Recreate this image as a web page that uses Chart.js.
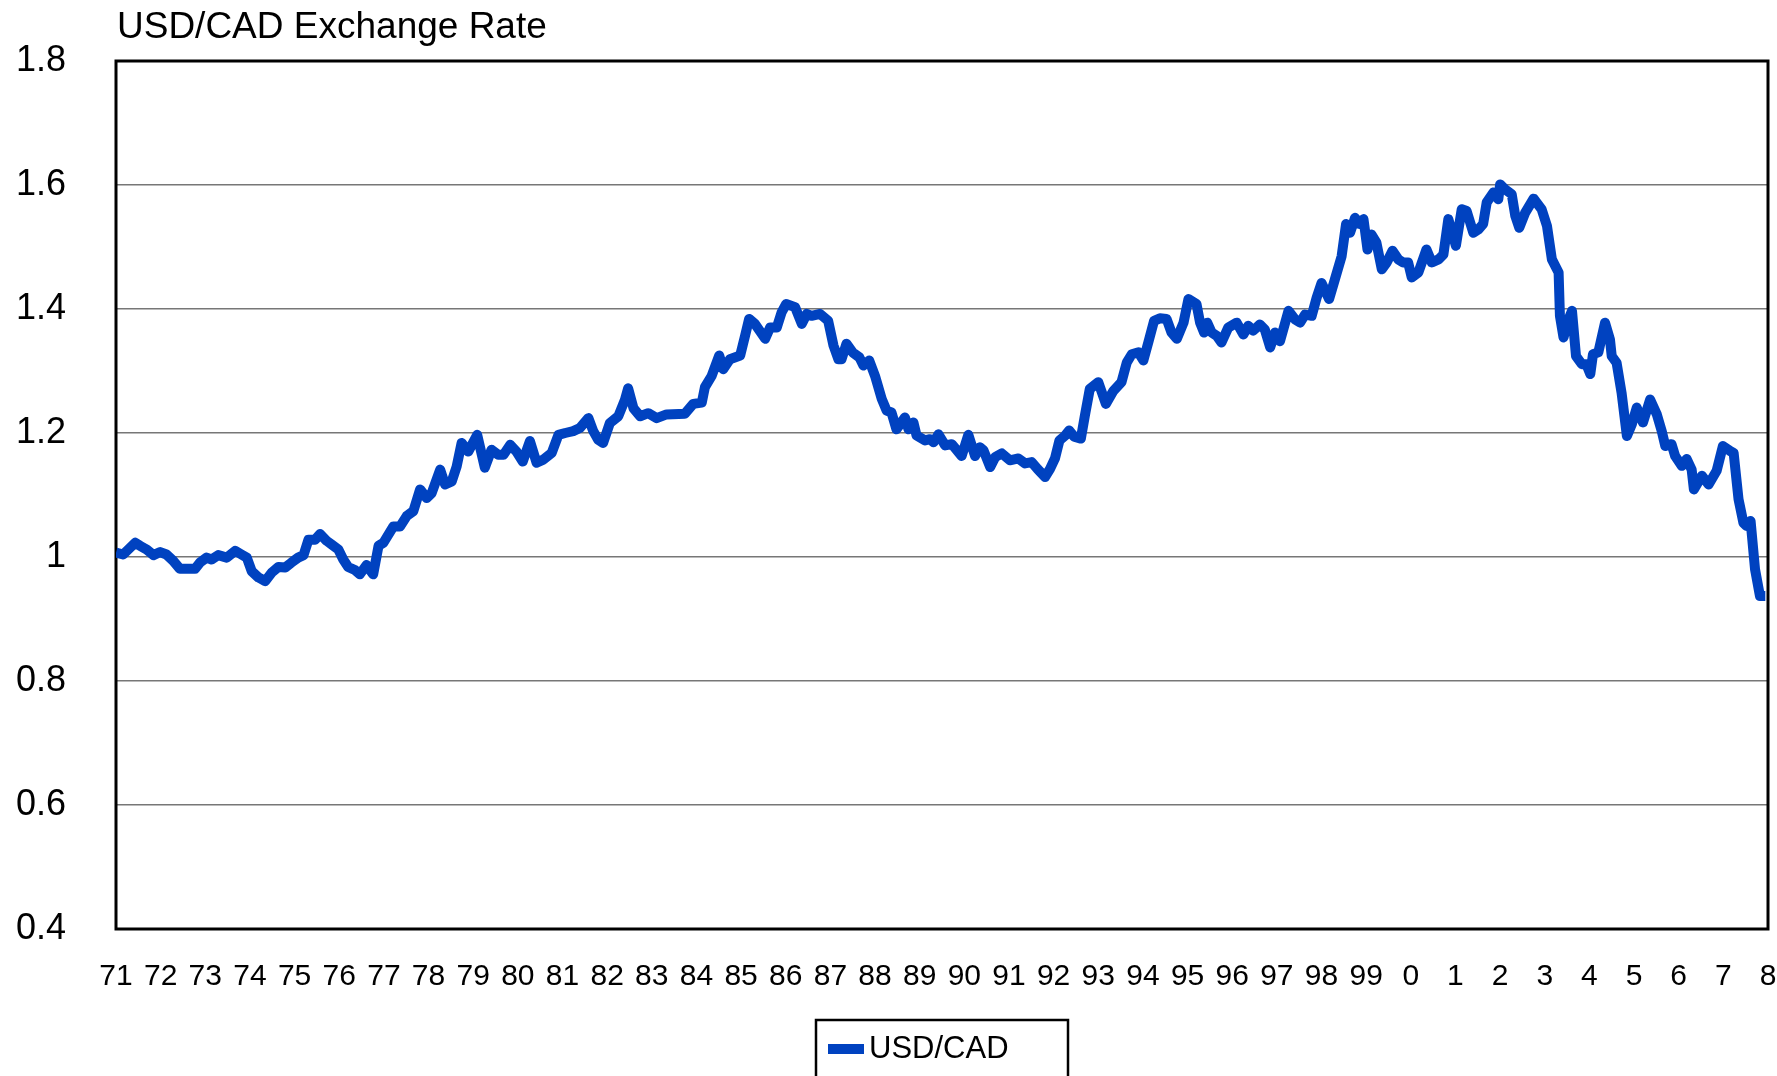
<!DOCTYPE html>
<html>
<head>
<meta charset="utf-8">
<title>USD/CAD Exchange Rate</title>
<script src="https://cdn.jsdelivr.net/npm/chart.js@4.4.1/dist/chart.umd.min.js"></script>
<style>
    body { margin: 0; background: #fff; }
    #wrap { width: 1777px; height: 1076px; }
</style>
</head>
<body>
<div id="wrap"><canvas id="rateChart" width="1777" height="1076"></canvas></div>
<script>
// USD/CAD chart data (decimal year, rate)
const years = [
    1971.00, 1971.16, 1971.43, 1971.54, 1971.69, 1971.84, 1971.99, 1972.13, 1972.28, 1972.43,
    1972.58, 1972.77, 1972.88, 1973.03, 1973.14, 1973.29, 1973.48, 1973.67, 1973.81, 1973.93,
    1974.04, 1974.19, 1974.34, 1974.49, 1974.64, 1974.79, 1974.93, 1975.08, 1975.20, 1975.31,
    1975.46, 1975.57, 1975.72, 1975.83, 1975.98, 1976.09, 1976.20, 1976.35, 1976.46, 1976.61,
    1976.76, 1976.88, 1976.99,
    1977.21, 1977.36, 1977.51, 1977.66, 1977.81, 1977.96, 1978.07, 1978.26, 1978.37, 1978.52,
    1978.63, 1978.74, 1978.89, 1979.09, 1979.26, 1979.41, 1979.56, 1979.68, 1979.83, 1979.97,
    1980.11, 1980.27, 1980.42, 1980.57, 1980.76, 1980.91, 1981.06, 1981.24, 1981.39, 1981.58,
    1981.69, 1981.80, 1981.91, 1982.06, 1982.25, 1982.40, 1982.47, 1982.59, 1982.74, 1982.92,
    1983.11, 1983.33,
    1983.74, 1983.93, 1984.12, 1984.19, 1984.34, 1984.51, 1984.60, 1984.75, 1984.98, 1985.09,
    1985.18, 1985.31, 1985.54, 1985.65, 1985.80, 1985.91, 1986.01, 1986.21, 1986.36, 1986.47,
    1986.58, 1986.77, 1986.95, 1987.07, 1987.18, 1987.25, 1987.36, 1987.50, 1987.65, 1987.74,
    1987.87, 1988.00, 1988.15, 1988.26, 1988.37, 1988.48, 1988.67, 1988.75, 1988.86, 1988.93,
    1989.12, 1989.23, 1989.31, 1989.42, 1989.57, 1989.72, 1989.94,
    1990.09, 1990.24, 1990.35, 1990.43, 1990.58, 1990.69, 1990.84, 1991.02, 1991.21, 1991.36,
    1991.51, 1991.64, 1991.81, 1991.92, 1992.03, 1992.13, 1992.26, 1992.35, 1992.46, 1992.61,
    1992.70, 1992.81, 1993.00, 1993.17, 1993.34, 1993.52, 1993.64, 1993.75, 1993.90, 1994.01,
    1994.12, 1994.25, 1994.38, 1994.53, 1994.64, 1994.76, 1994.91, 1995.02, 1995.20, 1995.28,
    1995.37, 1995.44, 1995.54, 1995.65, 1995.76, 1995.91,
    1996.10, 1996.25, 1996.36, 1996.47, 1996.62, 1996.73, 1996.85, 1996.96, 1997.07, 1997.26,
    1997.41, 1997.52, 1997.63, 1997.78, 1997.89, 1998.00, 1998.17, 1998.30, 1998.45, 1998.55,
    1998.64, 1998.75, 1998.86, 1998.94, 1999.03, 1999.12, 1999.23, 1999.35, 1999.46, 1999.59,
    1999.72, 1999.83, 1999.94, 2000.02, 2000.17, 2000.35, 2000.47, 2000.62, 2000.73, 2000.84,
    2001.01, 2001.14, 2001.25, 2001.40, 2001.51, 2001.62, 2001.70, 2001.85, 2001.96,
    2002.00, 2002.11, 2002.26, 2002.34, 2002.43, 2002.56, 2002.75, 2002.93, 2003.05, 2003.16,
    2003.31, 2003.34, 2003.42, 2003.53, 2003.61, 2003.70, 2003.83, 2003.93, 2004.02, 2004.08,
    2004.20, 2004.35, 2004.46, 2004.50, 2004.61, 2004.72, 2004.84, 2004.95, 2005.06, 2005.20,
    2005.36, 2005.51, 2005.62, 2005.70, 2005.84, 2005.92, 2006.07, 2006.18, 2006.29, 2006.34,
    2006.52, 2006.67, 2006.85, 2006.99, 2007.15, 2007.23, 2007.34, 2007.45, 2007.52, 2007.61,
    2007.71, 2007.82, 2007.94
];

const usdCad = [
    1.007, 1.004, 1.023, 1.018, 1.012, 1.003, 1.008, 1.004, 0.994, 0.981,
    0.981, 0.981, 0.991, 0.999, 0.996, 1.003, 0.999, 1.010, 1.004, 0.999,
    0.977, 0.967, 0.961, 0.975, 0.984, 0.983, 0.991, 0.999, 1.003, 1.028,
    1.028, 1.037, 1.026, 1.020, 1.012, 0.996, 0.984, 0.979, 0.972, 0.987,
    0.972, 1.018, 1.023,
    1.049, 1.049, 1.066, 1.074, 1.109, 1.095, 1.103, 1.141, 1.117, 1.122,
    1.146, 1.184, 1.170, 1.197, 1.144, 1.173, 1.165, 1.165, 1.181, 1.170,
    1.154, 1.187, 1.152, 1.157, 1.168, 1.197, 1.200, 1.203, 1.208, 1.224,
    1.203, 1.189, 1.184, 1.216, 1.227, 1.254, 1.272, 1.240, 1.227, 1.232,
    1.224, 1.230,
    1.231, 1.247, 1.249, 1.274, 1.292, 1.325, 1.303, 1.319, 1.325, 1.357,
    1.384, 1.376, 1.352, 1.370, 1.370, 1.395, 1.408, 1.403, 1.376, 1.392,
    1.389, 1.392, 1.381, 1.341, 1.319, 1.319, 1.344, 1.330, 1.322, 1.309,
    1.317, 1.292, 1.255, 1.236, 1.233, 1.206, 1.225, 1.206, 1.217, 1.196,
    1.188, 1.190, 1.185, 1.198, 1.180, 1.182, 1.163,
    1.197, 1.163, 1.177, 1.172, 1.145, 1.161, 1.167, 1.156, 1.159, 1.151,
    1.153, 1.142, 1.129, 1.142, 1.159, 1.188, 1.196, 1.204, 1.194, 1.191,
    1.228, 1.271, 1.282, 1.247, 1.268, 1.282, 1.314, 1.327, 1.330, 1.317,
    1.346, 1.381, 1.385, 1.384, 1.362, 1.352, 1.378, 1.416, 1.408, 1.378,
    1.362, 1.378, 1.362, 1.357, 1.346, 1.370,
    1.378, 1.359, 1.373, 1.365, 1.375, 1.367, 1.338, 1.362, 1.348, 1.397,
    1.383, 1.378, 1.391, 1.389, 1.418, 1.442, 1.416, 1.448, 1.485, 1.537,
    1.523, 1.547, 1.537, 1.545, 1.496, 1.520, 1.507, 1.464, 1.475, 1.494,
    1.480, 1.475, 1.475, 1.451, 1.459, 1.496, 1.475, 1.480, 1.488, 1.545,
    1.502, 1.561, 1.558, 1.523, 1.528, 1.537, 1.572, 1.588, 1.577,
    1.601, 1.593, 1.585, 1.550, 1.531, 1.555, 1.578, 1.561, 1.534, 1.480,
    1.459, 1.389, 1.354, 1.383, 1.397, 1.324, 1.311, 1.311, 1.295, 1.327,
    1.330, 1.378, 1.351, 1.324, 1.313, 1.265, 1.195, 1.214, 1.241, 1.217,
    1.254, 1.230, 1.203, 1.179, 1.182, 1.163, 1.147, 1.158, 1.141, 1.109,
    1.131, 1.117, 1.139, 1.179, 1.171, 1.168, 1.093, 1.055, 1.050, 1.058,
    0.980, 0.937, 0.937
];

// Axis range and tick labels
const yearRange = [1971, 2008];
const rateTicks = [0.4, 0.6, 0.8, 1, 1.2, 1.4, 1.6, 1.8];

const chartTitle = 'USD/CAD Exchange Rate';
const seriesName = 'USD/CAD';
const lineColor = '#0042C0';
const fontFamily = 'Arial, "Liberation Sans", sans-serif';

// Title, plot frame and boxed legend (drawn by hand like the original)
const decorPlugin = {
    id: 'decor',
    beforeDatasetsDraw(chart) {
        const ctx = chart.ctx;
        const a = chart.chartArea;
        ctx.save();
        ctx.strokeStyle = '#000';
        ctx.lineWidth = 3;
        ctx.strokeRect(a.left, a.top, a.right - a.left, a.bottom - a.top);
        ctx.restore();
    },
    afterDraw(chart) {
        const ctx = chart.ctx;
        const a = chart.chartArea;
        ctx.save();
        ctx.fillStyle = '#000';
        ctx.font = '37px ' + fontFamily;
        ctx.textBaseline = 'alphabetic';
        ctx.textAlign = 'left';
        ctx.fillText(chartTitle, a.left + 1, 38);

        // legend box, runs off the bottom edge
        ctx.strokeStyle = '#000';
        ctx.lineWidth = 2.5;
        ctx.strokeRect(816, 1020, 252, 80);
        ctx.fillStyle = lineColor;
        ctx.fillRect(828, 1044, 36, 10);
        ctx.fillStyle = '#000';
        ctx.font = '31px ' + fontFamily;
        ctx.textBaseline = 'middle';
        ctx.fillText(seriesName, 869, 1049);
        ctx.restore();
    }
};

function buildPoints() {
    return years.map((t, i) => ({ x: t, y: usdCad[i] }));
}

// drop the extra room Chart.js keeps for the edge tick labels
function noEdgePadding(scale) {
    scale.paddingLeft = 0;
    scale.paddingRight = 0;
    scale.paddingTop = 0;
    scale.paddingBottom = 0;
}

document.addEventListener('DOMContentLoaded', function() {
    const ctx = document.getElementById('rateChart').getContext('2d');
    new Chart(ctx, {
        type: 'line',
        data: {
            datasets: [{
                label: seriesName,
                data: buildPoints(),
                borderColor: lineColor,
                backgroundColor: lineColor,
                borderWidth: 10,
                borderJoinStyle: 'round',
                borderCapStyle: 'butt',
                pointRadius: 0,
                tension: 0
            }]
        },
        options: {
            responsive: false,
            animation: false,
            layout: { padding: { top: 61, right: 9, bottom: 0, left: 0 } },
            plugins: {
                legend: { display: false },
                title: { display: false },
                tooltip: { enabled: false }
            },
            scales: {
                x: {
                    type: 'linear',
                    min: yearRange[0],
                    max: yearRange[1],
                    afterFit: scale => { scale.height = 147; noEdgePadding(scale); },
                    afterBuildTicks: scale => {
                        const ticks = [];
                        for (let y = yearRange[0]; y <= yearRange[1]; y++) ticks.push({ value: y });
                        scale.ticks = ticks;
                    },
                    grid: { display: false, drawTicks: false },
                    border: { display: false },
                    ticks: {
                        autoSkip: false,
                        maxRotation: 0,
                        padding: 30,
                        color: '#000',
                        font: { family: fontFamily, size: 30 },
                        callback: v => String(Math.round(v) % 100)
                    }
                },
                y: {
                    min: rateTicks[0],
                    max: rateTicks[rateTicks.length - 1],
                    afterFit: scale => { scale.width = 116; noEdgePadding(scale); },
                    afterBuildTicks: scale => {
                        scale.ticks = rateTicks.map(v => ({ value: v }));
                    },
                    grid: { color: '#777', lineWidth: 1.5, drawTicks: false },
                    border: { display: false },
                    ticks: {
                        padding: 50,
                        color: '#000',
                        font: { family: fontFamily, size: 36 },
                        callback: v => String(Math.round(v * 10) / 10)
                    }
                }
            }
        },
        plugins: [decorPlugin]
    });
});
</script>
</body>
</html>
